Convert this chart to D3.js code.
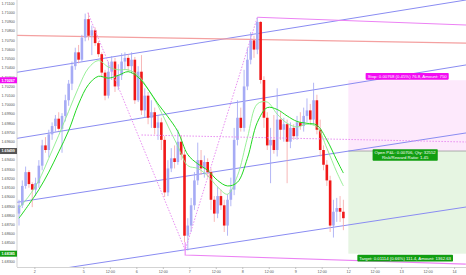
<!DOCTYPE html>
<html>
<head>
<meta charset="utf-8">
<script src="https://cdn.jsdelivr.net/npm/d3@7"></script>
<style>
html, body { margin: 0; padding: 0; background: #fff; }
svg { display: block; font-family: "Liberation Sans", Arial, sans-serif; }
</style>
</head>
<body>
<div id="chart"></div>
<script>
// chart size and plot box
var W = 466, H = 275;
var plot = {left: 17, right: 466, top: 0, bottom: 267};

// candles (one per bar index)
var opens = [1.6882,1.6891,1.6912,1.6927,1.6914,1.6908,1.6915,1.6934,1.6956,1.6951,
  1.6968,1.6977,1.6985,1.6974,1.6988,1.7005,1.7023,1.7042,1.7057,1.7049,
  1.7073,1.7093,1.7075,1.7081,1.7067,1.7055,1.7035,1.7010,1.7036,1.7047,
  1.7020,1.7032,1.7047,1.7051,1.7042,1.7049,1.7005,1.7036,1.6994,1.7010,
  1.6986,1.6992,1.6975,1.6981,1.6962,1.6905,1.6931,1.6942,1.6938,1.6960,
  1.6946,1.6858,1.6869,1.6891,1.6918,1.6940,1.6931,1.6938,1.6927,1.6897,
  1.6882,1.6901,1.6891,1.6869,1.6897,1.6908,1.6962,1.6986,1.6975,1.7020,
  1.7049,1.7070,1.7060,1.7090,1.7027,1.6986,1.6956,1.6962,1.6951,1.6984,
  1.6973,1.6979,1.6960,1.6975,1.6966,1.6981,1.6977,1.6988,1.6994,1.6984,
  1.7005,1.6973,1.6951,1.6935,1.6918,1.6869,1.6884,1.6888,1.6884];
var highs = [1.6897,1.6918,1.6933,1.6929,1.6916,1.6921,1.6940,1.6962,1.6965,1.6973,
  1.6981,1.6989,1.6992,1.6991,1.7011,1.7027,1.7047,1.7062,1.7065,1.7076,
  1.7099,1.7100,1.7086,1.7084,1.7069,1.7057,1.7038,1.7047,1.7053,1.7051,
  1.7044,1.7056,1.7057,1.7055,1.7057,1.7052,1.7042,1.7054,1.7018,1.7014,
  1.7005,1.6997,1.6989,1.6986,1.6966,1.6940,1.6953,1.6956,1.6973,1.6967,
  1.6951,1.6877,1.6899,1.6927,1.6959,1.6951,1.6945,1.6942,1.6931,1.6901,
  1.6911,1.6908,1.6897,1.6903,1.6921,1.6975,1.7005,1.6997,1.7038,1.7062,
  1.7079,1.7075,1.7095,1.7091,1.7031,1.6992,1.6975,1.6989,1.7018,1.6992,
  1.6986,1.6984,1.6981,1.6979,1.6988,1.6992,1.6997,1.7007,1.7001,1.7024,
  1.7011,1.6984,1.6956,1.6940,1.6923,1.6897,1.6899,1.6901,1.6897];
var lows = [1.6869,1.6888,1.6909,1.6910,1.6889,1.6901,1.6910,1.6929,1.6948,1.6943,
  1.6962,1.6971,1.6972,1.6948,1.6982,1.6999,1.7016,1.7038,1.7045,1.7047,
  1.7069,1.7070,1.7054,1.7064,1.7052,1.7030,1.7005,1.7007,1.7027,1.7014,
  1.7016,1.7027,1.7038,1.7036,1.7034,1.7001,1.7003,1.6989,1.6986,1.6979,
  1.6975,1.6968,1.6962,1.6951,1.6900,1.6901,1.6927,1.6931,1.6935,1.6940,
  1.6851,1.6842,1.6862,1.6886,1.6913,1.6924,1.6921,1.6921,1.6886,1.6873,
  1.6877,1.6886,1.6862,1.6858,1.6890,1.6902,1.6956,1.6971,1.6971,1.7016,
  1.7044,1.7051,1.7055,1.7023,1.6975,1.6951,1.6915,1.6947,1.6944,1.6962,
  1.6960,1.6915,1.6953,1.6962,1.6962,1.6973,1.6971,1.6981,1.6978,1.6979,
  1.6968,1.6944,1.6929,1.6912,1.6862,1.6856,1.6873,1.6873,1.6864];
var closes = [1.6891,1.6912,1.6927,1.6914,1.6908,1.6915,1.6934,1.6956,1.6951,1.6968,
  1.6977,1.6985,1.6974,1.6988,1.7005,1.7023,1.7042,1.7057,1.7049,1.7073,
  1.7093,1.7075,1.7081,1.7067,1.7055,1.7035,1.7010,1.7036,1.7047,1.7020,
  1.7032,1.7047,1.7051,1.7042,1.7049,1.7005,1.7036,1.6994,1.7010,1.6986,
  1.6992,1.6975,1.6981,1.6962,1.6905,1.6931,1.6942,1.6938,1.6960,1.6946,
  1.6858,1.6869,1.6891,1.6918,1.6940,1.6931,1.6938,1.6927,1.6897,1.6882,
  1.6901,1.6891,1.6869,1.6897,1.6908,1.6962,1.6986,1.6975,1.7020,1.7049,
  1.7070,1.7060,1.7090,1.7027,1.6986,1.6956,1.6962,1.6951,1.6984,1.6973,
  1.6979,1.6960,1.6975,1.6966,1.6981,1.6977,1.6988,1.6994,1.6984,1.7005,
  1.6973,1.6951,1.6935,1.6918,1.6869,1.6884,1.6888,1.6884,1.6877];

// moving averages, read at every third bar
var maIndex = [0,3,6,9,12,15,18,21,24,27,30,33,36,39,42,45,48,51,54,57,60,63,66,69,72,75,78,81,84,87,90,93,96,98];
var maFast = [1.6888,1.6901,1.6918,1.6942,1.6967,1.6993,1.7019,1.7040,1.7048,1.7041,
  1.7038,1.7038,1.7032,1.7017,1.6999,1.6977,1.6955,1.6934,1.6931,1.6923,
  1.6911,1.6903,1.6923,1.6964,1.7001,1.7003,1.6990,1.6980,1.6976,1.6979,
  1.6976,1.6953,1.6927,1.6912];
var maSlow = [1.6877,1.6892,1.6908,1.6927,1.6949,1.6972,1.7001,1.7022,1.7031,1.7029,
  1.7032,1.7036,1.7030,1.7017,1.7001,1.6987,1.6971,1.6946,1.6936,1.6929,
  1.6918,1.6912,1.6916,1.6942,1.6981,1.6997,1.6995,1.6988,1.6982,1.6980,
  1.6978,1.6962,1.6940,1.6926];

// axis ticks
var xTickIndex = [4.8,19.6,27.6,35.6,43.6,51.6,59.6,67.6,75.6,83.6,91.6,99.6,107.6,115.6,123.6,131.6];
var xTickLabels = ["2","5","12:00","6","12:00","7","12:00","8","12:00","9","12:00","12","12:00","13","12:00","14"];
var yTicks = d3.range(1.683, 1.7112, 0.001);

// drawings: [bar index, price] anchors
var channels = [
  [[0, 1.70357], [135, 1.71138]],
  [[0, 1.69640], [135, 1.70433]],
  [[0, 1.68946], [135, 1.69695]],
  [[16, 1.68240], [135, 1.68891]]
];
var redLine = [[0, 1.70753], [135, 1.70671]];
var peakLine = [[72, 1.7095], [135, 1.70867]];
var troughLine = [[50.2, 1.6851], [50.2, 1.6837], [135, 1.68272]];
var zigzag = [[20.8, 1.7100], [50.2, 1.68425], [72, 1.7095]];
var midDotted = [[37, 1.69673], [135, 1.69597]];

// short position tool
var entryPrice = 1.69499, stopPrice = 1.70267, targetPrice = 1.68385;
var posStart = 99.5, posEnd = 137;
var stopText = "Stop: 0.00768 (0.45%) 76.8, Amount: 750";
var openText = ["Open P&L: 0.00706, Qty: 32552", "Risk/Reward Ratio: 1.45"];
var targetText = "Target: 0.01114 (0.66%) 111.4, Amount: 1362.63";

var x = d3.scaleLinear().domain([0, 135]).range([19, 465.85]);
var y = d3.scaleLinear().domain([1.683, 1.711]).range([261.5, 3.5]);

var svg = d3.select("#chart").append("svg")
    .attr("width", W).attr("height", H);

svg.append("defs").append("clipPath").attr("id", "clip")
  .append("rect")
    .attr("x", plot.left).attr("y", plot.top)
    .attr("width", plot.right - plot.left).attr("height", plot.bottom - plot.top);

var g = svg.append("g").attr("clip-path", "url(#clip)");

// position tool boxes
var px0 = x(posStart), px1 = x(posEnd);
g.append("rect")
    .attr("x", px0).attr("y", y(stopPrice))
    .attr("width", px1 - px0).attr("height", y(entryPrice) - y(stopPrice))
    .attr("fill", "#fde9fc");
g.append("rect")
    .attr("x", px0).attr("y", y(entryPrice))
    .attr("width", px1 - px0).attr("height", y(targetPrice) - y(entryPrice))
    .attr("fill", "#e6f5e2");
g.append("line")
    .attr("x1", px0).attr("x2", px1)
    .attr("y1", y(entryPrice)).attr("y2", y(entryPrice))
    .attr("stroke", "#9a9a9a").attr("stroke-width", 0.8);

// extend a two point line to the plot edges
function extend(a, b, left, right) {
  var x1 = x(a[0]), y1 = y(a[1]), x2 = x(b[0]), y2 = y(b[1]);
  var m = (y2 - y1) / (x2 - x1);
  if (left) { y1 = y1 + m * (plot.left - 2 - x1); x1 = plot.left - 2; }
  if (right) { y2 = y2 + m * (plot.right + 2 - x2); x2 = plot.right + 2; }
  return [[x1, y1], [x2, y2]];
}
var pathXY = d3.line();
var pathData = d3.line().x(d => x(d[0])).y(d => y(d[1]));

channels.forEach(function(c) {
  g.append("path")
      .attr("d", pathXY(extend(c[0], c[1], true, true)))
      .attr("fill", "none").attr("stroke", "#8a8cf2").attr("stroke-width", 1);
});
g.append("path")
    .attr("d", pathXY(extend(redLine[0], redLine[1], true, true)))
    .attr("fill", "none").attr("stroke", "#f4a0a0").attr("stroke-width", 1.3);

// candles
var bars = d3.range(closes.length);
var bw = 2.6;
var candle = g.append("g").selectAll("g")
    .data(bars)
    .enter().append("g");
candle.append("line")
    .attr("x1", i => x(i)).attr("x2", i => x(i))
    .attr("y1", i => y(highs[i])).attr("y2", i => y(lows[i]))
    .attr("stroke", i => closes[i] >= opens[i] ? "#a0a5f4" : "#f5a5a5")
    .attr("stroke-width", 0.8);
candle.append("rect")
    .attr("x", i => x(i) - bw / 2)
    .attr("y", i => y(Math.max(opens[i], closes[i])))
    .attr("width", bw)
    .attr("height", i => Math.max(0.8, Math.abs(y(opens[i]) - y(closes[i]))))
    .attr("fill", i => closes[i] >= opens[i] ? "#a6abf5" : "#f01818");

// moving averages
var maLine = d3.line()
    .x((d, k) => x(maIndex[k]))
    .y(d => y(d))
    .curve(d3.curveCatmullRom);
g.append("path").attr("d", maLine(maFast))
    .attr("fill", "none").attr("stroke", "#8ded8d").attr("stroke-width", 0.9);
g.append("path").attr("d", maLine(maSlow))
    .attr("fill", "none").attr("stroke", "#22d822").attr("stroke-width", 1);

// pattern drawings
g.append("path").attr("d", pathData(zigzag))
    .attr("fill", "none").attr("stroke", "#e98ef2").attr("stroke-width", 1)
    .attr("stroke-dasharray", "1.5,1.5");
g.append("path")
    .attr("d", pathXY(extend(midDotted[0], midDotted[1], false, true)))
    .attr("fill", "none").attr("stroke", "#e98ef2").attr("stroke-width", 1)
    .attr("stroke-dasharray", "1.5,1.5");
g.append("path")
    .attr("d", pathXY(extend(peakLine[0], peakLine[1], false, true)))
    .attr("fill", "none").attr("stroke", "#ec82f4").attr("stroke-width", 1.1);
g.append("path").attr("d", pathData(troughLine))
    .attr("fill", "none").attr("stroke", "#ec82f4").attr("stroke-width", 1.1);

// position labels
var fs = 4.3;
function labelBox(lines, cx, top, fill) {
  var lg = svg.append("g");
  var r = lg.append("rect").attr("fill", fill).attr("rx", 0.8);
  var maxW = 0;
  lines.forEach(function(t, k) {
    var tx = lg.append("text")
        .attr("x", cx).attr("y", top + 1.2 + fs * 0.85 + k * (fs + 0.6))
        .attr("text-anchor", "middle")
        .attr("font-size", fs).attr("fill", "#fff")
        .text(t);
    maxW = Math.max(maxW, tx.node().getComputedTextLength());
  });
  var h = lines.length * (fs + 0.6) + 1.8;
  r.attr("x", cx - maxW / 2 - 2).attr("y", top)
   .attr("width", maxW + 4).attr("height", h);
  return h;
}
var cx = (px0 + plot.right) / 2;
labelBox([stopText], cx, y(stopPrice) - 7.3, "#f20cf2");
labelBox(openText, cx - 2, y(entryPrice) - 1.8, "#119e11");
labelBox([targetText], cx - 2, y(targetPrice) + 1.2, "#119e11");

// y axis
svg.append("line")
    .attr("x1", plot.left).attr("x2", plot.left)
    .attr("y1", plot.top).attr("y2", plot.bottom)
    .attr("stroke", "#c8c8c8").attr("stroke-width", 0.8);
svg.append("g").selectAll("text")
    .data(yTicks)
    .enter().append("text")
    .attr("x", 1.5).attr("y", d => y(d) + 1.3)
    .attr("font-size", 3.7).attr("fill", "#555")
    .text(d => d3.format(".5f")(d));

function priceTag(p, fill) {
  svg.append("rect")
      .attr("x", 0).attr("y", y(p) - 3).attr("width", plot.left).attr("height", 6)
      .attr("fill", fill);
  svg.append("text")
      .attr("x", 1.5).attr("y", y(p) + 1.3)
      .attr("font-size", 3.7).attr("fill", "#fff").attr("font-weight", "bold")
      .text(d3.format(".5f")(p));
}
priceTag(stopPrice, "#f20cf2");
priceTag(entryPrice, "#555");
priceTag(targetPrice, "#119e11");

// x axis
svg.append("line")
    .attr("x1", plot.left).attr("x2", plot.right)
    .attr("y1", plot.bottom + 0.5).attr("y2", plot.bottom + 0.5)
    .attr("stroke", "#c8c8c8").attr("stroke-width", 0.8);
var xt = svg.append("g").selectAll("g")
    .data(xTickIndex)
    .enter().append("g");
xt.append("line")
    .attr("x1", d => x(d)).attr("x2", d => x(d))
    .attr("y1", plot.bottom + 0.5).attr("y2", plot.bottom + 2)
    .attr("stroke", "#999").attr("stroke-width", 0.6);
xt.append("text")
    .attr("x", d => x(d)).attr("y", 273)
    .attr("text-anchor", "middle")
    .attr("font-size", 3.7).attr("fill", "#555")
    .text((d, k) => xTickLabels[k]);
</script>
</body>
</html>
